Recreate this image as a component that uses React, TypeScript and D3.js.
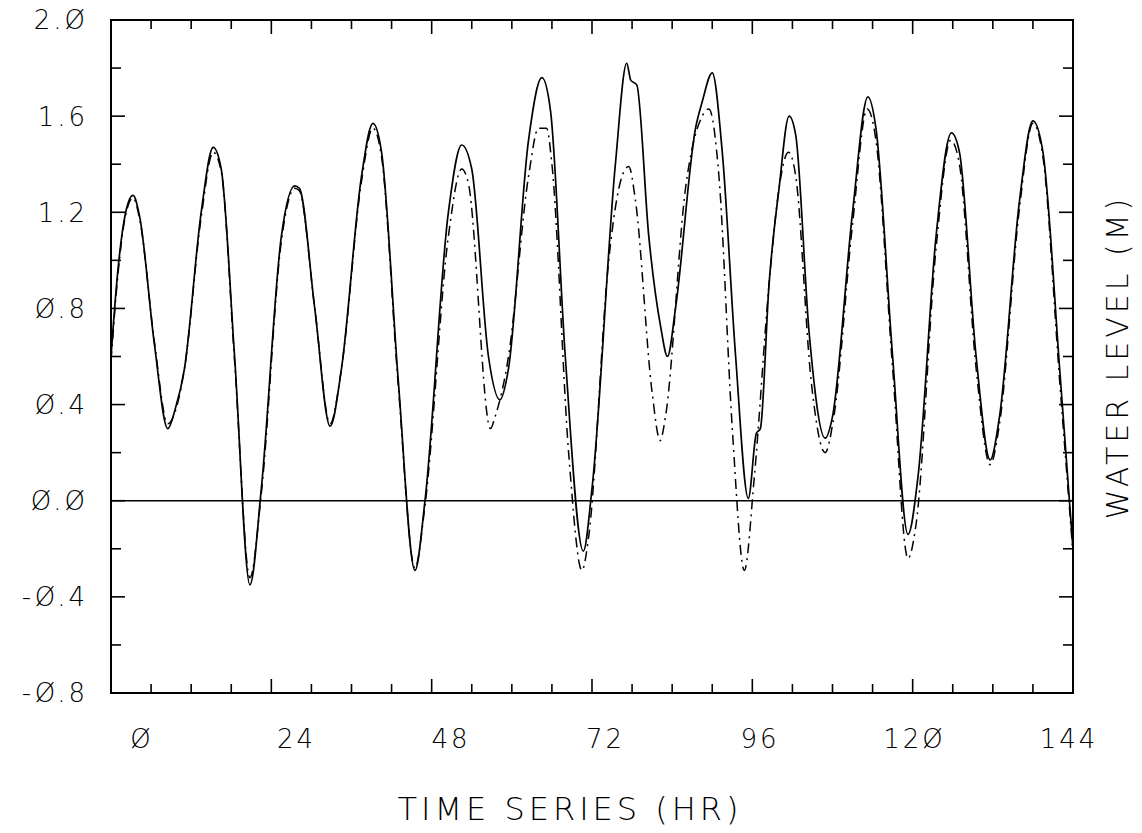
import React from "react";
import * as d3 from "d3";

// ---- data (hours, water level m) ----
const solidHours = [0, 1.0, 2.2, 3.3, 4.3, 6.5, 8.5, 9.6, 11, 13.5, 15.3, 16.5, 18.5, 20.8, 22.5, 25.5, 27.5, 28.2, 30.5, 32.8, 34.5, 37.5, 39.2, 40.5, 43, 45.5, 47, 50.5, 52.5, 54, 56.5, 58.2, 59.5, 62.5, 64.5, 65.8, 68, 70.7, 72, 75.5, 77.2, 77.8, 78.7, 80.5, 82.3, 83.3, 84.5, 87.5, 88.5, 90, 91.5, 93.5, 95.4, 96.6, 97.2, 98.5, 100, 101.5, 102.5, 104.5, 106.9, 108, 111, 113.3, 114.5, 117, 119.3, 120.8, 123.5, 125.8, 127, 129.5, 131.6, 133, 136, 138, 139.5, 142, 144];
const solidLevels = [0.60, 0.95, 1.20, 1.27, 1.18, 0.65, 0.30, 0.38, 0.55, 1.20, 1.47, 1.38, 0.60, -0.35, 0.05, 1.10, 1.31, 1.30, 0.80, 0.31, 0.55, 1.35, 1.57, 1.45, 0.50, -0.29, 0.0, 1.20, 1.48, 1.38, 0.60, 0.42, 0.55, 1.50, 1.76, 1.62, 0.60, -0.21, 0.05, 1.40, 1.82, 1.75, 1.73, 1.10, 0.72, 0.60, 0.80, 1.55, 1.66, 1.78, 1.45, 0.60, 0.01, 0.28, 0.30, 0.90, 1.30, 1.60, 1.52, 0.70, 0.26, 0.35, 1.20, 1.68, 1.55, 0.60, -0.14, 0.10, 1.10, 1.53, 1.45, 0.60, 0.17, 0.35, 1.25, 1.58, 1.45, 0.55, -0.20];

const dashHours = [0, 1, 2.2, 3.3, 4.3, 6.5, 8.5, 9.6, 11, 13.5, 15.3, 16.5, 18.5, 20.8, 22.5, 25.5, 27.5, 28.2, 30.5, 32.8, 34.5, 37.5, 39.2, 40.5, 43, 45.5, 47, 50.5, 52.5, 53.5, 56.8, 57.5, 59.5, 62.5, 64, 65.2, 66, 68.5, 70.5, 71.5, 74.5, 76.5, 77.5, 78.5, 81, 82.2, 83, 86, 88.5, 89.5, 91, 93, 94.8, 96.3, 98.5, 100, 101.4, 102.5, 104.8, 106.9, 108.2, 111, 113.2, 114.5, 117, 119.3, 120.5, 123.5, 125.7, 127, 129.5, 131.6, 133, 136, 138, 139.5, 142, 144];
const dashLevels = [0.58, 0.93, 1.19, 1.26, 1.17, 0.66, 0.32, 0.37, 0.55, 1.18, 1.45, 1.37, 0.58, -0.32, 0.03, 1.08, 1.30, 1.29, 0.80, 0.32, 0.55, 1.33, 1.55, 1.43, 0.48, -0.28, -0.02, 1.10, 1.38, 1.32, 0.30, 0.35, 0.60, 1.35, 1.55, 1.55, 1.40, 0.20, -0.29, -0.15, 1.00, 1.35, 1.39, 1.25, 0.45, 0.25, 0.35, 1.30, 1.60, 1.63, 1.35, 0.30, -0.29, 0.10, 0.90, 1.30, 1.45, 1.35, 0.50, 0.20, 0.35, 1.15, 1.63, 1.50, 0.55, -0.24, -0.10, 1.05, 1.50, 1.40, 0.55, 0.15, 0.32, 1.22, 1.57, 1.43, 0.50, -0.22];

const xTickLabels = ["Ø", "24", "48", "72", "96", "12Ø", "144"];
const xLabelHours = [0, 24, 48, 72, 96, 120, 144];
const yTickLabels = ["2.Ø", "1.6", "1.2", "Ø.8", "Ø.4", "Ø.Ø", "-Ø.4", "-Ø.8"];
const yLabelValues = [2.0, 1.6, 1.2, 0.8, 0.4, 0.0, -0.4, -0.8];

const W = 1142, H = 833;
const L = 111, R = 1073, T = 20, B = 693;
const FONT = "'DejaVu Sans', sans-serif";
const WEIGHT = 200;

export default function App() {
  const x = d3.scaleLinear().domain([0, 144]).range([L, R]);
  const xLab = d3.scaleLinear().domain([0, 144]).range([142, 1069]);
  const y = d3.scaleLinear().domain([-0.8, 2.0]).range([B, T]);

  const line = d3
    .line<[number, number]>()
    .x((d) => x(d[0]))
    .y((d) => y(d[1]))
    .curve(d3.curveMonotoneX);

  const solid = solidHours.map((h, i) => [h, solidLevels[i]] as [number, number]);
  const dashed = dashHours.map((h, i) => [h, dashLevels[i]] as [number, number]);

  const xTicks = d3.range(6, 144, 6);
  const yTicks = d3.range(-0.6, 2.0 - 1e-9, 0.2);

  return (
    <div style={{ position: "absolute", left: 0, top: 0 }}>
      <svg width={W} height={H} style={{ display: "block", background: "#fff" }}>
        <defs>
          <clipPath id="plot">
            <rect x={L} y={T} width={R - L} height={B - T} />
          </clipPath>
        </defs>
        {/* zero line */}
        <line x1={L} x2={R} y1={y(0)} y2={y(0)} stroke="#000" strokeWidth={1.6} />
        <g clipPath="url(#plot)" fill="none" stroke="#000">
          <path d={line(dashed) || ""} strokeWidth={1.5} strokeDasharray="10 5 2 5" />
          <path d={line(solid) || ""} strokeWidth={1.7} />
        </g>
        {/* frame */}
        <rect x={L} y={T} width={R - L} height={B - T} fill="none" stroke="#000" strokeWidth={2} />
        {/* x ticks */}
        {xTicks.map((t) => {
          const len = t % 24 === 0 ? 14 : 9;
          return (
            <g key={"xt" + t} stroke="#000" strokeWidth={1.6}>
              <line x1={x(t)} x2={x(t)} y1={B} y2={B - len} />
              <line x1={x(t)} x2={x(t)} y1={T} y2={T + len} />
            </g>
          );
        })}
        {/* y ticks */}
        {yTicks.map((v) => {
          const major = Math.abs(Math.round(v * 10) % 4) === 0;
          const len = major ? 14 : 10;
          return (
            <g key={"yt" + v.toFixed(1)} stroke="#000" strokeWidth={1.6}>
              <line x1={L} x2={L + len} y1={y(v)} y2={y(v)} />
              <line x1={R} x2={R - len} y1={y(v)} y2={y(v)} />
            </g>
          );
        })}
        {/* y tick labels */}
        {yLabelValues.map((v, i) => (
          <text
            key={"yl" + i}
            x={88}
            y={y(v)}
            dy="0.36em"
            textAnchor="end"
            fontFamily={FONT}
            fontWeight={WEIGHT}
            fontSize={26}
            letterSpacing={3}
            fill="#000"
          >
            {yTickLabels[i]}
          </text>
        ))}
        {/* x tick labels */}
        {xLabelHours.map((h, i) => (
          <text
            key={"xl" + i}
            x={xLab(h)}
            y={748}
            textAnchor="middle"
            fontFamily={FONT}
            fontWeight={WEIGHT}
            fontSize={26}
            letterSpacing={3}
            fill="#000"
          >
            {xTickLabels[i]}
          </text>
        ))}
        {/* axis titles */}
        <text
          x={570}
          y={820}
          textAnchor="middle"
          fontFamily={FONT}
          fontWeight={WEIGHT}
          fontSize={32}
          letterSpacing={4}
          fill="#000"
        >
          TIME SERIES (HR)
        </text>
        <text
          transform={`translate(1128, 357) rotate(-90)`}
          textAnchor="middle"
          fontFamily={FONT}
          fontWeight={WEIGHT}
          fontSize={30}
          letterSpacing={4}
          fill="#000"
        >
          WATER LEVEL (M)
        </text>
      </svg>
    </div>
  );
}
